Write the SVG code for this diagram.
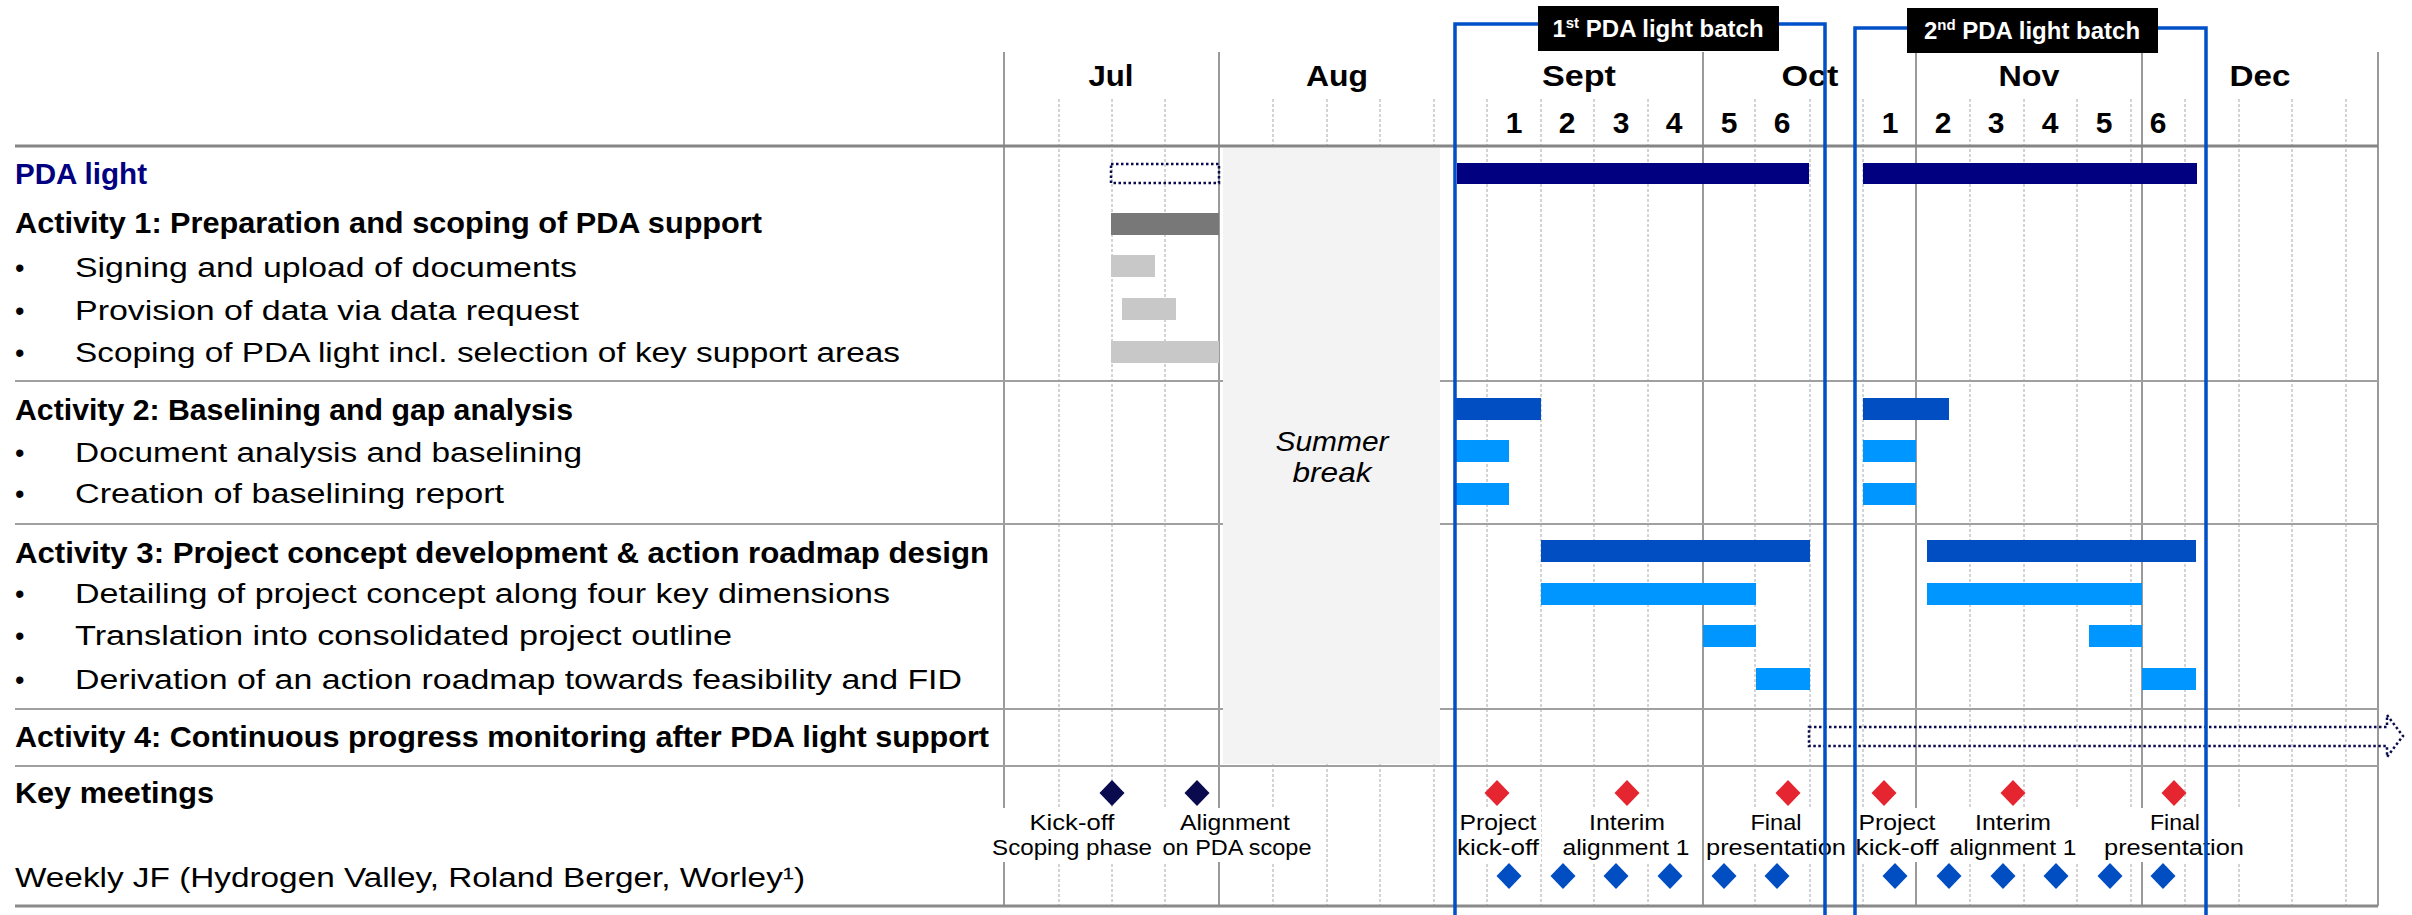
<svg xmlns="http://www.w3.org/2000/svg" width="2412" height="915" viewBox="0 0 2412 915">
<defs>
<style>
text{font-family:"Liberation Sans",Arial,sans-serif;fill:#000}
.act{font-size:30px;font-weight:700}
.itm{font-size:27px}
.mon{font-size:30px;font-weight:700;text-anchor:middle}
.wk{font-size:30px;font-weight:700;text-anchor:middle}
.lbl{font-size:22px;text-anchor:middle}
.ms{stroke:#9a9a9a;stroke-width:2;fill:none}
.ds{stroke:#a8a8a8;stroke-width:1;stroke-dasharray:3 2;fill:none}
.hl{stroke:#a0a0a0;stroke-width:2;fill:none}
.navy{fill:#000080}
.c1{fill:#004EC2}
.c2{fill:#0096FF}
.g1{fill:#787878}
.g2{fill:#C8C8C8}
.frame{stroke:#0050C8;stroke-width:3.5;fill:none}
.dn{fill:#0A0A4E}
.dr{fill:#E52631}
.db{fill:#004EC2}
.dot{fill:none;stroke:#0A0A4E;stroke-width:2.5;stroke-dasharray:2.5 2.5}
.wb{fill:#fff}
.bl{font-size:24px;font-weight:700;fill:#fff;text-anchor:middle}
</style>
<path id="dm" d="M0,-13 L12.5,0 L0,13 L-12.5,0 Z"/>
</defs>
<rect x="0" y="0" width="2412" height="915" fill="#fff"/>

<g id="grid">
<g id="week-lines">
<path class="ds" d="M1059,99V906M1112,99V906M1165,99V906M1273,99V906M1327,99V906M1380,99V906M1434,99V906M1487,99V906M1541,99V906M1594,99V906M1648,99V906M1755,99V906M1810,99V906M1863,99V906M1970,99V906M2024,99V906M2077,99V906M2131,99V906M2185,99V906M2239,99V906M2292,99V906M2346,99V906"/>
</g>
<g id="month-lines">
<path class="ms" d="M1004,52V906M1219,52V906M1455,52V906M1703,52V906M1916,52V906M2142,52V906M2378,52V906"/>
</g>
<g id="row-lines">
<path d="M15,146H2378" stroke="#858585" stroke-width="3"/>
<path class="hl" d="M15,381H2378M15,524H2378M15,709H2378"/>
</g>
</g>

<g id="summer-break">
<rect x="1223" y="148" width="217" height="616" fill="#F3F3F3"/>
<text x="1332" y="451" font-size="28" font-style="italic" text-anchor="middle" textLength="113" lengthAdjust="spacingAndGlyphs">Summer</text>
<text x="1332" y="482" font-size="28" font-style="italic" text-anchor="middle" textLength="79" lengthAdjust="spacingAndGlyphs">break</text>
</g>

<g id="grid-bottom">
<path class="hl" d="M15,766H2378"/>
<path d="M15,906H2378" stroke="#8a8a8a" stroke-width="3"/>
</g>

<g id="header">
<text class="mon" x="1111" y="86" textLength="45" lengthAdjust="spacingAndGlyphs">Jul</text>
<text class="mon" x="1337" y="86" textLength="62" lengthAdjust="spacingAndGlyphs">Aug</text>
<text class="mon" x="1579" y="86" textLength="74" lengthAdjust="spacingAndGlyphs">Sept</text>
<text class="mon" x="1810" y="86" textLength="57" lengthAdjust="spacingAndGlyphs">Oct</text>
<text class="mon" x="2029" y="86" textLength="61" lengthAdjust="spacingAndGlyphs">Nov</text>
<text class="mon" x="2260" y="86" textLength="61" lengthAdjust="spacingAndGlyphs">Dec</text>
<text class="wk" x="1514" y="133">1</text>
<text class="wk" x="1567" y="133">2</text>
<text class="wk" x="1621" y="133">3</text>
<text class="wk" x="1674" y="133">4</text>
<text class="wk" x="1729" y="133">5</text>
<text class="wk" x="1782" y="133">6</text>
<text class="wk" x="1890" y="133">1</text>
<text class="wk" x="1943" y="133">2</text>
<text class="wk" x="1996" y="133">3</text>
<text class="wk" x="2050" y="133">4</text>
<text class="wk" x="2104" y="133">5</text>
<text class="wk" x="2158" y="133">6</text>
</g>

<g id="row-pda-light">
<text class="act" x="15" y="184" fill="#000080" style="fill:#000080" textLength="132" lengthAdjust="spacingAndGlyphs">PDA light</text>
<rect class="dot" x="1111" y="164" width="108" height="19"/>
<rect class="navy" x="1457" y="163" width="352" height="21"/>
<rect class="navy" x="1863" y="163" width="334" height="21"/>
</g>

<g id="row-activity-1">
<text class="act" x="15" y="233" textLength="747" lengthAdjust="spacingAndGlyphs">Activity 1: Preparation and scoping of PDA support</text>
<rect class="g1" x="1111" y="213" width="108" height="22"/>
<text class="itm" x="15" y="277">•</text>
<text class="itm" x="75" y="277" textLength="502" lengthAdjust="spacingAndGlyphs">Signing and upload of documents</text>
<rect class="g2" x="1111" y="255" width="44" height="22"/>
<text class="itm" x="15" y="320">•</text>
<text class="itm" x="75" y="320" textLength="504" lengthAdjust="spacingAndGlyphs">Provision of data via data request</text>
<rect class="g2" x="1122" y="298" width="54" height="22"/>
<text class="itm" x="15" y="362">•</text>
<text class="itm" x="75" y="362" textLength="825" lengthAdjust="spacingAndGlyphs">Scoping of PDA light incl. selection of key support areas</text>
<rect class="g2" x="1111" y="341" width="108" height="22"/>
</g>

<g id="row-activity-2">
<text class="act" x="15" y="420" textLength="558" lengthAdjust="spacingAndGlyphs">Activity 2: Baselining and gap analysis</text>
<rect class="c1" x="1455" y="398" width="86" height="22"/>
<rect class="c1" x="1863" y="398" width="86" height="22"/>
<text class="itm" x="15" y="462">•</text>
<text class="itm" x="75" y="462" textLength="507" lengthAdjust="spacingAndGlyphs">Document analysis and baselining</text>
<rect class="c2" x="1455" y="440" width="54" height="22"/>
<rect class="c2" x="1863" y="440" width="53" height="22"/>
<text class="itm" x="15" y="503">•</text>
<text class="itm" x="75" y="503" textLength="429" lengthAdjust="spacingAndGlyphs">Creation of baselining report</text>
<rect class="c2" x="1455" y="483" width="54" height="22"/>
<rect class="c2" x="1863" y="483" width="53" height="22"/>
</g>

<g id="row-activity-3">
<text class="act" x="15" y="563" textLength="974" lengthAdjust="spacingAndGlyphs">Activity 3: Project concept development &amp; action roadmap design</text>
<rect class="c1" x="1541" y="540" width="269" height="22"/>
<rect class="c1" x="1927" y="540" width="269" height="22"/>
<text class="itm" x="15" y="603">•</text>
<text class="itm" x="75" y="603" textLength="815" lengthAdjust="spacingAndGlyphs">Detailing of project concept along four key dimensions</text>
<rect class="c2" x="1541" y="583" width="215" height="22"/>
<rect class="c2" x="1927" y="583" width="215" height="22"/>
<text class="itm" x="15" y="645">•</text>
<text class="itm" x="75" y="645" textLength="657" lengthAdjust="spacingAndGlyphs">Translation into consolidated project outline</text>
<rect class="c2" x="1703" y="625" width="53" height="22"/>
<rect class="c2" x="2089" y="625" width="53" height="22"/>
<text class="itm" x="15" y="689">•</text>
<text class="itm" x="75" y="689" textLength="887" lengthAdjust="spacingAndGlyphs">Derivation of an action roadmap towards feasibility and FID</text>
<rect class="c2" x="1756" y="668" width="54" height="22"/>
<rect class="c2" x="2142" y="668" width="54" height="22"/>
</g>

<g id="row-activity-4">
<text class="act" x="15" y="747" textLength="974" lengthAdjust="spacingAndGlyphs">Activity 4: Continuous progress monitoring after PDA light support</text>
<path class="dot" d="M1809,727H2387V715L2403,736L2387,757V746H1809Z"/>
</g>

<g id="row-key-meetings">
<text class="act" x="15" y="803" textLength="199" lengthAdjust="spacingAndGlyphs">Key meetings</text>
<rect class="wb" x="992" y="808" width="163" height="54"/>
<rect class="wb" x="1160" y="808" width="154" height="54"/>
<rect class="wb" x="1457" y="808" width="84" height="54"/>
<rect class="wb" x="1560" y="808" width="132" height="54"/>
<rect class="wb" x="1705" y="808" width="142" height="54"/>
<rect class="wb" x="1855" y="808" width="86" height="54"/>
<rect class="wb" x="1947" y="808" width="132" height="54"/>
<rect class="wb" x="2102" y="808" width="145" height="54"/>
<use href="#dm" x="1112" y="793" class="dn"/>
<use href="#dm" x="1197" y="793" class="dn"/>
<use href="#dm" x="1497" y="793" class="dr"/>
<use href="#dm" x="1627" y="793" class="dr"/>
<use href="#dm" x="1788" y="793" class="dr"/>
<use href="#dm" x="1884" y="793" class="dr"/>
<use href="#dm" x="2013" y="793" class="dr"/>
<use href="#dm" x="2174" y="793" class="dr"/>
<text class="lbl" x="1072" y="830" textLength="85" lengthAdjust="spacingAndGlyphs">Kick-off</text>
<text class="lbl" x="1072" y="855" textLength="160" lengthAdjust="spacingAndGlyphs">Scoping phase</text>
<text class="lbl" x="1235" y="830" textLength="110" lengthAdjust="spacingAndGlyphs">Alignment</text>
<text class="lbl" x="1237" y="855" textLength="149" lengthAdjust="spacingAndGlyphs">on PDA scope</text>
<text class="lbl" x="1498" y="830" textLength="77" lengthAdjust="spacingAndGlyphs">Project</text>
<text class="lbl" x="1498" y="855" textLength="82" lengthAdjust="spacingAndGlyphs">kick-off</text>
<text class="lbl" x="1627" y="830" textLength="76" lengthAdjust="spacingAndGlyphs">Interim</text>
<text class="lbl" x="1626" y="855" textLength="127" lengthAdjust="spacingAndGlyphs">alignment 1</text>
<text class="lbl" x="1776" y="830" textLength="51" lengthAdjust="spacingAndGlyphs">Final</text>
<text class="lbl" x="1776" y="855" textLength="140" lengthAdjust="spacingAndGlyphs">presentation</text>
<text class="lbl" x="1897" y="830" textLength="77" lengthAdjust="spacingAndGlyphs">Project</text>
<text class="lbl" x="1897" y="855" textLength="83" lengthAdjust="spacingAndGlyphs">kick-off</text>
<text class="lbl" x="2013" y="830" textLength="76" lengthAdjust="spacingAndGlyphs">Interim</text>
<text class="lbl" x="2013" y="855" textLength="127" lengthAdjust="spacingAndGlyphs">alignment 1</text>
<text class="lbl" x="2175" y="830" textLength="50" lengthAdjust="spacingAndGlyphs">Final</text>
<text class="lbl" x="2174" y="855" textLength="140" lengthAdjust="spacingAndGlyphs">presentation</text>
</g>

<g id="row-weekly-jf">
<text class="itm" x="15" y="887" textLength="790" lengthAdjust="spacingAndGlyphs">Weekly JF (Hydrogen Valley, Roland Berger, Worley¹)</text>
<use href="#dm" x="1509" y="876" class="db"/>
<use href="#dm" x="1563" y="876" class="db"/>
<use href="#dm" x="1616" y="876" class="db"/>
<use href="#dm" x="1670" y="876" class="db"/>
<use href="#dm" x="1724" y="876" class="db"/>
<use href="#dm" x="1777" y="876" class="db"/>
<use href="#dm" x="1895" y="876" class="db"/>
<use href="#dm" x="1949" y="876" class="db"/>
<use href="#dm" x="2003" y="876" class="db"/>
<use href="#dm" x="2056" y="876" class="db"/>
<use href="#dm" x="2110" y="876" class="db"/>
<use href="#dm" x="2163" y="876" class="db"/>
</g>

<g id="batch-1">
<path class="frame" d="M1455,918V24H1825V918"/>
<rect x="1538" y="6" width="241" height="45" fill="#000"/>
<text class="bl" x="1658" y="37">1<tspan font-size="15" dy="-9">st</tspan><tspan dy="9"> PDA light batch</tspan></text>
</g>

<g id="batch-2">
<path class="frame" d="M1855,918V28H2206V918"/>
<rect x="1907" y="8" width="251" height="45" fill="#000"/>
<text class="bl" x="2032" y="39">2<tspan font-size="15" dy="-9">nd</tspan><tspan dy="9"> PDA light batch</tspan></text>
</g>
</svg>
